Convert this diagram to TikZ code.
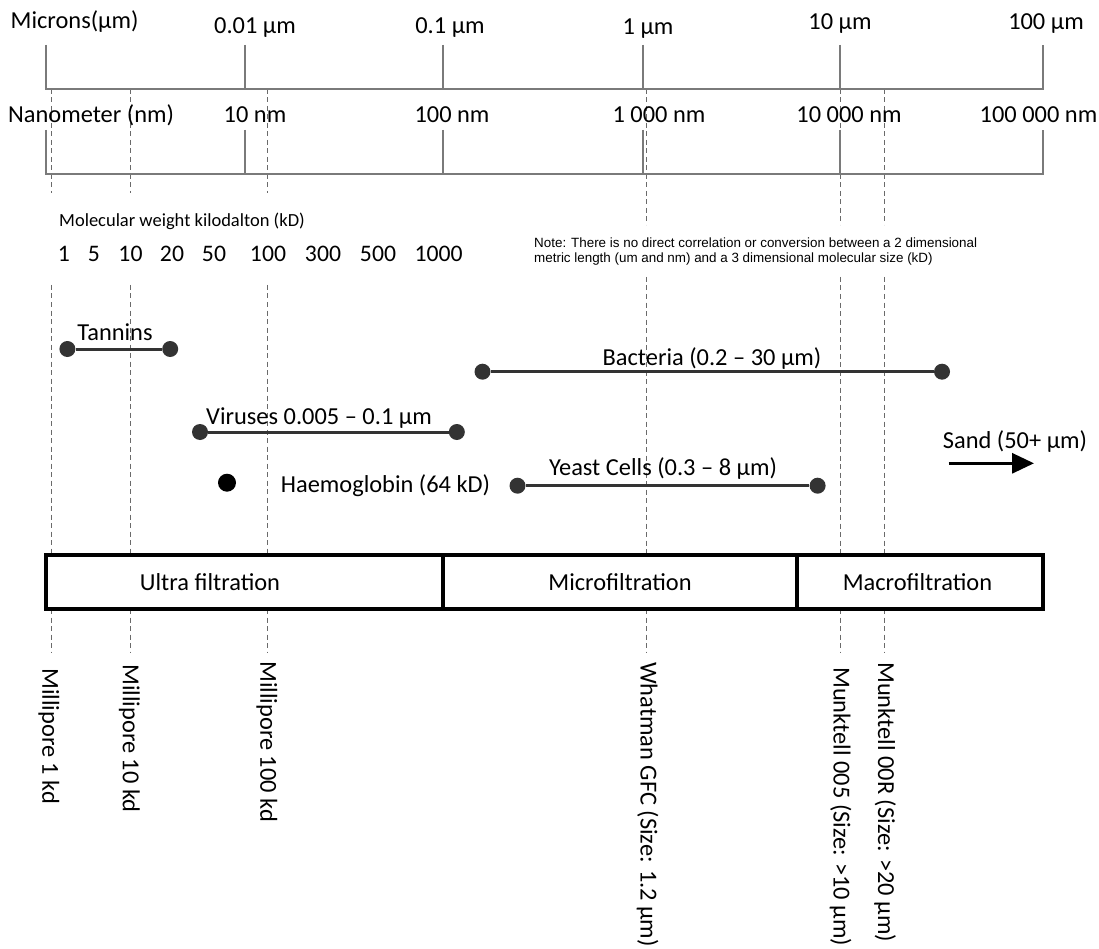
\documentclass[tikz,border=0pt]{standalone}
\usepackage{fontspec}
\setmainfont{Carlito}
\newfontfamily\notefont{Liberation Sans}
\usetikzlibrary{arrows.meta}
\newcommand\bigfs{\fontsize{24.4}{29}\selectfont}
\newcommand\kdfs{\fontsize{23.7}{28}\selectfont}
\definecolor{axisgray}{HTML}{7A7A7A}
\definecolor{guidegray}{HTML}{6A6A6A}
\definecolor{rangegray}{HTML}{333333}
\begin{document}
\begin{tikzpicture}[x=1pt,y=-1pt,
  axisline/.style={draw=axisgray, line width=1.3pt},
  guide/.style={draw=guidegray, line width=1pt, dash pattern=on 5pt off 3.5pt},
  rangeline/.style={draw=rangegray, line width=3pt},
  dot/.style={circle, fill=rangegray, inner sep=0pt, minimum size=16pt},
  bigdot/.style={circle, fill=black, inner sep=0pt, minimum size=18pt},
  lbl/.style={inner sep=0pt, anchor=base, font=\bigfs},
  kd/.style={inner sep=0pt, anchor=base, font=\kdfs},
  vlbl/.style={inner sep=0pt, anchor=west, rotate=-90, font=\bigfs},
  band/.style={draw=black, line width=3.5pt},
  notetxt/.style={inner sep=0pt, anchor=base west, font=\notefont\fontsize{13.4}{15}\selectfont}
]
\useasboundingbox (0,0) rectangle (1099,949);
\fill[white] (0,0) rectangle (1099,949);

% dashed guide lines
\foreach \x in {51,130,267} {
  \draw[guide] (\x,89) -- (\x,193);
  \draw[guide] (\x,285) -- (\x,555);
  \draw[guide] (\x,609) -- (\x,653);
}
\foreach \x in {646,840,884} {
  \draw[guide] (\x,89) -- (\x,225);
  \draw[guide] (\x,277) -- (\x,555);
  \draw[guide] (\x,609) -- (\x,653);
}

% micron axis
\draw[axisline] (46,45) -- (46,89) -- (1043,89) -- (1043,45);
\foreach \x in {245,443,643,840} \draw[axisline] (\x,45) -- (\x,89);
% nanometer axis
\draw[axisline] (46,130) -- (46,174) -- (1043,174) -- (1043,130);
\foreach \x in {245,443,643,840} \draw[axisline] (\x,130) -- (\x,174);

% axis labels
\node[lbl, anchor=base west] (mic) at (10.5,29) {Microns(µm)};
\node[lbl] (u001) at (255,34) {0.01 µm};
\node[lbl] (u01) at (450,34) {0.1 µm};
\node[lbl] (u1) at (648,35) {1 µm};
\node[lbl] (u10) at (840,30) {10 µm};
\node[lbl] (u100) at (1046,30) {100 µm};

\node[lbl, anchor=base west] (nano) at (8,123) {Nanometer (nm)};
\node[lbl] (n10) at (255,123) {10 nm};
\node[lbl] (n100) at (452,123) {100 nm};
\node[lbl] (n1000) at (659,123) {1 000 nm};
\node[lbl] (n10000) at (849,123) {10 000 nm};
\node[lbl] (n100000) at (1038.5,123) {100 000 nm};

% molecular weight
\node[inner sep=0pt, anchor=base west, font=\fontsize{18.5}{22}\selectfont] (mw) at (59,226.7) {Molecular weight kilodalton (kD)};
\node[kd] (k1) at (64,262) {1};
\node[kd] (k5) at (94,262) {5};
\node[kd] (k10) at (130.5,262) {10};
\node[kd] (k20) at (172,262) {20};
\node[kd] (k50) at (214,262) {50};
\node[kd] (k100) at (268,262) {100};
\node[kd] (k300) at (323,262) {300};
\node[kd] (k500) at (378,262) {500};
\node[kd] (k1000) at (438.6,262) {1000};

% note
\node[notetxt] (note1) at (534,248) {Note: There is no direct correlation or conversion between a 2 dimensional};
\node[notetxt] (note2) at (534,263) {metric length (um and nm) and a 3 dimensional molecular size (kD)};

% ranges
\node[dot] (tan1) at (67.4,349) {};
\node[dot] (tan2) at (170.2,349) {};
\draw[rangeline] (tan1) -- (tan2);
\node[lbl] (tanl) at (115,340.7) {Tannins};

\node[dot] (bac1) at (482.5,371.7) {};
\node[dot] (bac2) at (942,371.7) {};
\draw[rangeline] (bac1) -- (bac2);
\node[lbl] (bacl) at (712,365) {Bacteria (0.2 – 30 µm)};

\node[dot] (vir1) at (200,432) {};
\node[dot] (vir2) at (456.8,432) {};
\draw[rangeline] (vir1) -- (vir2);
\node[lbl] (virl) at (319,424) {Viruses 0.005 – 0.1 µm};

\node[bigdot] (hae) at (227,482.7) {};
\node[lbl] (hael) at (385.5,492.7) {Haemoglobin (64 kD)};

\node[dot] (yea1) at (517.5,485.7) {};
\node[dot] (yea2) at (817.6,485.7) {};
\draw[rangeline] (yea1) -- (yea2);
\node[lbl] (yeal) at (663,475) {Yeast Cells (0.3 – 8 µm)};

\node[lbl] (sandl) at (1015,448) {Sand (50+ µm)};
\coordinate (sandA) at (948.5,463.3);
\coordinate (sandB) at (1034,463.3);
\draw[rangeline, draw=black, -{Triangle[length=22pt,width=20pt]}] (sandA) -- (sandB);

% filtration band
\draw[band] (46,555) rectangle (1043,609);
\draw[band] (443,555) -- (443,609);
\draw[band] (797,555) -- (797,609);
\node[lbl] (ultra) at (210,590) {Ultra filtration};
\node[lbl] (micro) at (620,590) {Microfiltration};
\node[lbl] (macro) at (917.5,590) {Macrofiltration};

% rotated filter labels
\node[vlbl] (m1) at (49,668) {Millipore 1 kd};
\node[vlbl] (m10) at (129.5,664) {Millipore 10 kd};
\node[vlbl] (m100) at (267,661) {Millipore 100 kd};
\node[vlbl] (wh) at (647.5,662) {Whatman GFC (Size: 1.2 µm)};
\node[vlbl] (mu5) at (840.5,667) {Munktell 005 (Size: >10 µm)};
\node[vlbl] (mur) at (885,662) {Munktell 00R (Size: >20 µm)};
\end{tikzpicture}
\end{document}
